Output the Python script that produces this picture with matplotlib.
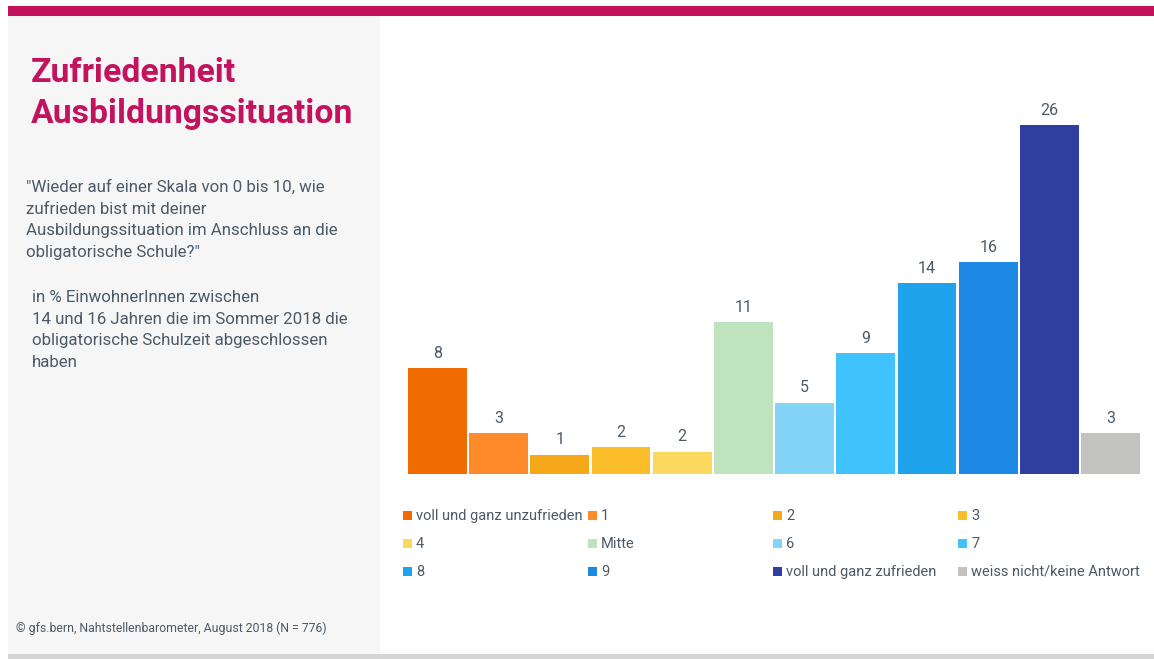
import matplotlib
matplotlib.use('Agg')
import matplotlib.pyplot as plt
from matplotlib.patches import Rectangle

# Daten (in %)
categories = ['voll und ganz unzufrieden', '1', '2', '3', '4', 'Mitte', '6', '7',
              '8', '9', 'voll und ganz zufrieden', 'weiss nicht/keine Antwort']
values = [7.9, 3.05, 1.45, 2.0, 1.65, 11.3, 5.3, 9.0, 14.2, 15.8, 26.0, 3.05]
colors = ['#f06c00', '#ff8a2a', '#f5a81a', '#fbbd2a', '#fbd95f', '#c0e3bf',
          '#84d4f8', '#40c3fc', '#1fa3ea', '#1e88e5', '#303f9f', '#c2c2c0']

W, H = 1154, 659
TXT = '#4b5a66'
MAGENTA = '#c4135e'
plt.rcParams['font.family'] = ['Roboto', 'DejaVu Sans']

fig = plt.figure(figsize=(W / 100, H / 100), dpi=100)

def fx(x):
    return x / W

def fy(y):
    return 1 - y / H

def box(x0, y0, x1, y1, color):
    fig.add_artist(Rectangle((fx(x0), fy(y1)), fx(x1) - fx(x0), fy(y0) - fy(y1),
                             transform=fig.transFigure, color=color, lw=0, zorder=0))

box(8, 6, W, 16, MAGENTA)        # Balken oben
box(8, 16, 380, 654, '#f6f6f6')  # linkes Panel
box(8, 654, W, H, '#d4d4d4')     # Linie unten

# Titel und Texte links
fig.text(fx(31), fy(82), 'Zufriedenheit', color=MAGENTA, fontsize=24.3, weight='bold', va='baseline')
fig.text(fx(31), fy(123), 'Ausbildungssituation', color=MAGENTA, fontsize=24.3, weight='bold', va='baseline')

frage = ['"Wieder auf einer Skala von 0 bis 10, wie',
         'zufrieden bist mit deiner',
         'Ausbildungssituation im Anschluss an die',
         'obligatorische Schule?"']
for i, line in enumerate(frage):
    fig.text(fx(26), fy(192 + i * 21.5), line, color=TXT, fontsize=12.2, va='baseline')

basis = ['in % EinwohnerInnen zwischen',
         '14 und 16 Jahren die im Sommer 2018 die',
         'obligatorische Schulzeit abgeschlossen',
         'haben']
for i, line in enumerate(basis):
    fig.text(fx(32), fy(302 + i * 21.5), line, color=TXT, fontsize=12.2, va='baseline')

fig.text(fx(16), fy(632), '© gfs.bern, Nahtstellenbarometer, August 2018 (N = 776)',
         color=TXT, fontsize=8.8, va='baseline')

# Balkendiagramm
ax = fig.add_axes([fx(408), fy(474), fx(1140) - fx(408), fy(474 - 13.42 * 28) - fy(474)])
x = range(len(values))
bars = ax.bar(x, values, width=0.96, color=colors)
for rect, v in zip(bars, values):
    ax.text(rect.get_x() + rect.get_width() / 2, v + 0.55, f'{v:.0f}',
            ha='center', va='bottom', fontsize=11.5, color=TXT)
ax.set_xlim(-0.48, len(values) - 0.52)
ax.set_ylim(0, 28)
ax.axis('off')

# Legende (4 Spalten, zeilenweise)
for i, (lab, c) in enumerate(zip(categories, colors)):
    col, row = i % 4, i // 4
    lx = 403 + col * 185
    ly = 516 + row * 28
    box(lx, ly - 5, lx + 9, ly + 4, c)
    fig.text(fx(lx + 13), fy(ly), lab, color=TXT, fontsize=10.5, va='center')

fig.savefig('out.png', dpi=100)
